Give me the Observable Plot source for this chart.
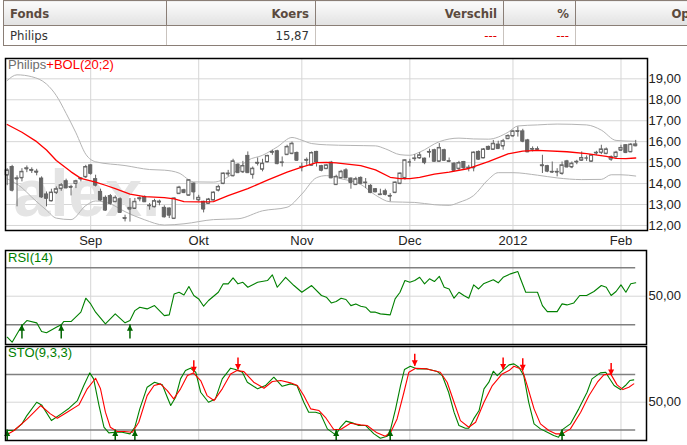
<!DOCTYPE html>
<html><head><meta charset="utf-8">
<script src="https://cdn.jsdelivr.net/npm/d3@7"></script>
<script src="https://cdn.jsdelivr.net/npm/@observablehq/plot@0.6"></script>
<style>
html,body{margin:0;padding:0;background:#fff;}
body{width:687px;height:445px;overflow:hidden;position:relative;font-family:"Liberation Sans",Arial,sans-serif;}
#tbl{position:absolute;left:3px;top:0;border-collapse:collapse;table-layout:fixed;width:709px;
 font-family:"Liberation Sans Narrow","DejaVu Sans Condensed","Arial Narrow","Liberation Sans",sans-serif;font-size:13px;}
#tbl th{height:24px;padding:0 6px;font-weight:bold;color:#5b4a3e;border:1px solid #8a7e76;
 background:linear-gradient(to bottom,#fbfbfb,#e2e2e2);}
#tbl td{height:19px;padding:0 6px;color:#333;border:1px solid #c9c3be;}
#tbl tr:last-child td{border-bottom:1px solid #8a7e76;}
#tbl td:first-child{border-left:1px solid #8a7e76;}
.l{text-align:left}.r{text-align:right}
.red{color:#e00000 !important}
.pnl{position:absolute;left:0;}
.ttl{position:absolute;left:8px;font-size:13px;line-height:15px;font-family:"Liberation Sans",Arial,sans-serif;white-space:nowrap;}
</style></head>
<body>
<table id="tbl"></table>
<div id="main" class="pnl" style="top:50px"></div>
<div id="rsi" class="pnl" style="top:246px"></div>
<div id="sto" class="pnl" style="top:345px"></div>
<div class="ttl" style="top:57px"><span id="t1" style="color:#6e6e6e"></span><span id="t2" style="color:#ff0000"></span></div>
<div class="ttl" id="t3" style="top:250px;color:#008000"></div>
<div class="ttl" id="t4" style="top:345px;color:#008000"></div>
<script>
// ---------- table ----------
const tableHeaders = ["Fonds", "Koers", "Verschil", "%", "Open"];
const tableRow = ["Philips", "15,87", "---", "---", ""];
const colWidths = [163, 149, 188, 72, 137];

// ---------- titles ----------
const stockName = "Philips";
const overlayName = "+BOL(20;2)";
const rsiTitle = "RSI(14)";
const stoTitle = "STO(9,3,3)";
const watermark = "alex.";

// ---------- axis ticks ----------
const monthTicks = [17, 39, 60, 82, 103, 125];   // trading-day index of first day of month
const monthLabels = ["Sep", "Okt", "Nov", "Dec", "2012", "Feb"];
const priceTicks = [12, 13, 14, 15, 16, 17, 18, 19];
const rsiLevels = [30, 70];
const stoLevels = [20, 80];

// ---------- daily candles (Aug 9 2011 .. Feb 6 2012) ----------
const open = [14.40,14.79,14.25,14.27,14.70,14.62,14.57,14.24,13.48,13.17,13.57,13.76,14.11,13.84,14.00,14.22,14.32,14.87,14.21,13.60,
13.32,13.40,13.13,13.25,12.33,12.78,12.81,13.27,13.36,12.95,12.89,13.11,12.84,12.81,12.33,13.52,13.68,13.44,14.00,13.22,
13.13,13.05,13.21,13.68,14.00,14.46,14.37,14.90,14.56,15.32,14.43,14.97,14.68,15.03,15.49,15.54,15.00,15.38,15.43,15.46,
14.79,15.11,14.87,15.51,14.83,14.71,15.00,13.95,14.27,14.63,14.24,13.95,14.27,14.05,13.89,13.73,13.48,13.63,13.41,13.57,
14.00,14.27,15.03,15.19,15.22,15.19,15.50,15.59,15.06,15.59,15.06,14.95,14.71,15.03,14.75,14.75,15.51,15.22,15.75,15.63,
15.86,15.79,16.14,16.27,16.49,16.49,16.06,15.64,15.64,14.87,14.83,14.56,14.55,14.48,15.06,14.79,15.03,15.11,15.22,15.06,
15.46,15.48,15.43,15.16,15.27,15.59,15.83,15.51,15.80];
const high = [14.71,14.87,14.37,14.71,14.84,14.75,14.68,14.32,13.60,13.73,13.84,14.00,14.21,13.92,14.16,14.27,14.87,14.90,14.40,13.73,
13.41,13.48,13.41,13.32,12.49,13.29,13.29,13.36,13.41,13.05,13.25,13.21,12.94,12.84,13.32,13.87,13.73,14.19,14.03,13.44,
13.16,13.29,13.60,13.92,14.51,14.63,15.16,14.95,15.06,15.51,14.79,15.22,15.16,15.35,15.59,15.59,15.27,15.83,15.98,15.51,
14.98,15.22,15.51,15.54,14.87,14.90,15.06,14.40,14.63,14.71,14.27,14.30,14.32,14.24,13.95,13.76,13.73,13.73,13.52,14.08,
14.51,15.14,15.16,15.38,15.48,15.22,15.64,15.64,15.91,15.64,15.22,15.00,15.06,15.06,14.87,15.51,15.56,15.67,15.79,16.06,
16.02,16.11,16.33,16.54,16.70,16.59,16.11,15.75,15.75,15.35,14.87,15.03,14.71,15.03,15.11,15.03,15.11,15.51,15.32,15.38,
15.54,15.83,15.70,15.32,15.54,15.83,15.86,15.91,16.06];
const low = [13.90,13.60,12.89,14.08,14.52,14.48,14.37,13.29,12.89,13.13,13.48,13.63,13.76,13.41,13.76,14.08,14.24,14.40,13.84,13.16,
12.68,12.97,13.10,12.59,12.17,12.16,12.78,13.13,13.10,12.73,12.84,12.94,12.36,12.33,12.30,13.51,13.52,13.41,13.21,13.13,
12.60,13.00,13.19,13.60,13.95,14.32,14.32,14.48,14.48,14.48,14.21,14.84,14.56,15.00,15.35,14.90,14.79,15.35,15.38,15.06,
14.56,14.87,14.84,14.79,14.56,14.68,14.24,13.92,14.24,14.24,13.73,13.92,13.95,13.76,13.52,13.57,13.44,13.41,13.13,13.52,
13.95,14.16,14.79,15.06,15.16,14.90,15.22,15.03,15.03,15.06,15.00,14.56,14.63,14.63,14.56,14.56,15.11,15.19,15.59,15.59,
15.64,15.59,16.11,16.22,16.22,15.95,15.48,15.51,15.56,14.48,14.52,14.48,14.32,14.40,14.75,14.71,14.90,15.06,15.06,15.03,
15.35,15.38,15.38,15.06,15.22,15.54,15.43,15.48,15.76];
const close = [14.63,13.68,14.22,14.56,14.73,14.65,14.54,13.36,13.29,13.57,13.73,13.92,13.79,13.82,14.11,14.25,14.79,14.48,13.92,13.21,
12.73,13.05,13.32,12.62,12.35,12.84,13.13,13.30,13.13,12.94,13.16,13.14,12.41,12.49,13.29,13.81,13.57,14.16,13.60,13.32,
12.78,13.24,13.57,13.84,14.48,14.48,15.06,14.52,14.84,14.52,14.71,14.99,14.95,15.32,15.51,14.95,15.01,15.75,15.90,15.11,
14.80,15.13,15.46,15.03,14.63,14.87,14.27,14.32,14.56,14.27,14.05,14.21,14.00,14.04,13.57,13.60,13.47,13.48,13.40,14.05,
14.48,15.11,15.03,15.20,15.35,15.00,15.51,15.06,15.70,15.11,15.07,14.63,14.98,14.75,14.76,15.48,15.16,15.63,15.63,15.90,
15.67,16.02,16.27,16.49,16.50,16.02,15.51,15.65,15.63,14.85,14.59,14.55,14.56,14.87,14.79,14.95,15.04,15.22,15.22,15.35,
15.47,15.63,15.63,15.27,15.48,15.70,15.48,15.86,15.87];

// ---------- Bollinger (20;2): middle (SMA) and bands, read at these day indices ----------
const smaIdx = [0,3,6,8,10,13,15,18,20,22,25,28,32,34,36,39,42,45,49,53,57,60,63,65,67,72,75,78,80,82,84,87,90,94,98,102,105,108,114,118,122,124,126,128];
const smaVal = [16.82,16.45,16.00,15.60,15.10,14.56,14.25,14.07,13.92,13.76,13.50,13.38,13.33,13.27,13.14,13.13,13.14,13.42,13.76,14.16,14.55,14.79,15.00,15.01,14.99,14.86,14.65,14.30,14.24,14.24,14.30,14.45,14.55,14.72,15.05,15.42,15.55,15.58,15.52,15.43,15.30,15.20,15.19,15.22];
const upperIdx = [0,2,5,8,10,12,14,16,18,24,29,32,35,38,42,46,49,52,55,58,60,62,65,70,75,77,80,82,84,88,92,95,98,102,104,108,112,118,121,124,128];
const upperVal = [18.92,19.19,19.10,18.75,18.20,17.35,16.42,15.40,15.04,14.86,14.67,14.64,14.50,14.08,14.07,14.48,15.11,15.35,15.75,16.20,16.07,15.91,15.85,15.82,15.80,15.66,15.38,15.35,15.50,16.00,16.17,16.13,16.12,16.45,16.75,16.80,16.84,16.80,16.55,16.06,16.02];
const lowerIdx = [0,3,5,8,10,13,16,18,21,24,28,32,36,42,47,52,57,60,63,65,68,72,75,78,83,87,90,92,95,98,100,103,108,112,117,121,123,125,128];
const lowerVal = [14.23,13.80,13.35,12.73,12.35,12.28,12.95,13.17,13.03,12.66,12.27,12.02,12.08,12.28,12.32,12.70,12.87,13.50,14.28,14.38,14.23,13.96,13.45,13.13,13.10,12.99,12.96,13.10,13.43,14.20,14.52,14.52,14.40,14.27,14.19,14.20,14.42,14.42,14.36];

// ---------- RSI(14) ----------
const rsiIdx = [0,1,3,4,6,7,8,10,11,11.5,13,15,16,17,18,20,22,24,25,26,27,28.5,30,32,33,34,35,36,37,38,39,40,41,43,44,45,46,47,48,49,51,53,54,55,56.7,58.4,60,62,64,65,66,67,68,69,70,71,72,73,74,75,76,78,79,80,81,82,83,84,85,86,87,88,89,90,91,92,93,94,95,96,97,99,100,101,102.5,104,104.5,105.6,108,109,110,112,113,114,115.4,116.6,118,119.5,121,122,123,124,125,126,127,128];
const rsiVal = [21.2,17.7,29.4,32.9,31.3,25.2,24.3,28.2,29.9,32.2,32.2,38.8,48.6,44.6,38.8,30.6,37.6,31.3,32.9,39.9,42.3,41.1,43.4,36.4,36.9,51.6,52.8,50.9,56.8,50.5,48.1,43.0,47.0,52.8,58.7,58.7,62.9,58.7,59.8,56.3,59.8,61.0,65.0,56.3,63.3,57.5,52.8,57.5,50.5,49.3,45.3,46.3,48.6,47.7,43.4,44.6,43.0,42.3,38.8,38.8,37.6,36.9,48.1,52.8,61.0,59.8,61.0,63.3,58.7,62.2,60.3,64.0,56.3,55.1,48.6,52.8,50.5,48.6,58.0,55.1,58.7,61.5,59.4,63.3,65.7,67.3,62.6,52.8,52.8,43.4,39.2,39.2,44.6,43.9,45.3,50.5,50.5,53.3,57.5,56.3,50.5,53.3,58.0,52.8,58.7,59.4];
const rsiUpIdx = [3, 11, 25];

// ---------- Stochastic (9,3,3): %K green, %D red ----------
const kIdx = [0,1.4,3,4,6,7,9,11,12.6,14.3,15.6,16.8,17.6,18.7,19.7,20.7,22,23.4,25,26,27,28.5,30,31.6,32.6,33.3,34.3,35.3,36.3,37.3,38.4,39.4,41,42.4,43.8,45.5,46.5,47.9,48.9,51,52.6,54.3,56,57.7,59,60.4,61.4,62.8,63.8,65.2,66.9,67.9,69,70.3,71.6,73,74.7,76,77.4,78.1,79.1,80.1,80.9,82.1,83.5,85.5,87.6,88.6,89.9,91,92,93.3,94,95,96.1,97.1,98.1,99,99.8,101.1,102.2,103.2,104.2,105.2,106.2,107.3,108.6,110,111.3,112.3,113,114.7,116.4,118.1,119.1,120.8,121.9,122.5,123.6,124.9,125.9,126.8,127.6];
const kVal = [19.3,19.3,26.5,35.5,50.0,47.1,30.1,37.4,43.5,51.8,68.1,81.8,75.3,46.4,22.9,16.8,17.5,17.5,15.7,22.9,42.8,66.3,71.7,68.8,55.4,46.4,55.4,75.3,84.3,86.9,82.5,60.8,50.0,53.6,75.3,86.9,85.4,82.5,71.7,64.5,68.1,77.1,67.3,69.9,68.1,50.0,39.2,39.2,37.4,21.1,14.6,23.0,29.5,27.6,24.7,24.7,15.7,11.0,13.1,21.1,42.8,68.1,85.4,89.0,86.1,86.1,83.2,78.9,60.8,39.2,24.7,21.8,21.8,31.9,41.0,64.5,71.7,83.6,78.9,85.4,90.5,91.6,87.9,78.9,50.0,26.5,21.1,17.5,13.9,12.1,20.0,26.5,42.8,60.8,75.3,81.8,82.5,77.1,68.1,63.7,68.1,73.5,74.2];
const dIdx = [0,1.4,4.1,6.8,8.8,10.2,12.2,14.6,16.3,18,19,20,21,22.4,23.8,25.5,26.8,28.5,29.9,31.2,32.6,33.9,35.3,36.7,37.9,39.4,40.7,42.1,43.8,45.5,46.8,48.2,50.2,52.3,54,55.7,57.7,59.1,60.4,61.8,63.5,64.8,66.5,67.9,69.9,72,73.3,75.3,77,78.1,79.4,80.8,81.8,83.2,85.5,88.2,89.6,91,92.3,94,95.4,97.1,98.8,100.8,102.2,103.2,104.9,105.9,107.3,108.6,110.3,111.7,113,114.7,116.8,118.5,120.2,121.5,122.9,124.2,125.4,126.6,127.6];
const dVal = [15.0,19.3,31.9,46.4,37.4,32.7,39.2,47.1,64.5,76.0,64.5,39.2,22.9,18.2,18.2,17.5,28.3,57.2,68.1,69.9,62.6,53.6,64.5,78.9,81.8,73.5,57.2,51.8,64.5,80.7,84.3,83.2,71.7,65.2,72.4,73.5,71.0,68.1,57.2,42.8,41.0,33.7,20.4,20.5,27.2,25.4,24.7,16.8,13.1,17.5,31.9,60.8,82.5,86.9,86.1,82.5,71.7,50.0,30.1,22.9,28.3,50.0,68.1,80.7,84.3,89.0,85.4,68.1,42.8,26.5,19.3,15.7,15.7,21.1,39.2,57.2,71.7,79.6,80.7,68.8,63.7,66.3,69.9];
const stoUpIdx = [0, 22, 26, 67, 78, 113];
const stoDownIdx = [38, 47, 83, 101, 105, 123];
const stoDownVal = [82, 85, 89, 85, 84, 79];

// ================= rendering =================
// table
const tbl = document.getElementById("tbl");
const cg = document.createElement("colgroup");
colWidths.forEach(w => { const c = document.createElement("col"); c.style.width = w + "px"; cg.appendChild(c); });
tbl.appendChild(cg);
const hr = tbl.insertRow();
tableHeaders.forEach((h, k) => { const th = document.createElement("th"); th.textContent = h; th.className = k === 0 ? "l" : "r"; hr.appendChild(th); });
const dr = tbl.insertRow();
tableRow.forEach((v, k) => { const td = dr.insertCell(); td.textContent = v; td.className = (k === 0 ? "l" : "r") + (v === "---" ? " red" : ""); });

document.getElementById("t1").textContent = stockName;
document.getElementById("t2").textContent = overlayName;
document.getElementById("t3").textContent = rsiTitle;
document.getElementById("t4").textContent = stoTitle;

const idx = d3.range(close.length);
const lastIdx = idx[idx.length - 1];
const pairs = (xs, ys) => xs.map((x, k) => ({x, y: ys[k]}));
const fmt = d => d.toFixed(2).replace(".", ",");
const grid = "#d6d6d6";
const candle = "#666666";
const green = "#008000";
const arrowGreen = "#006400";
const baseStyle = {fontFamily: "'Liberation Sans', Arial, sans-serif", fontSize: "13px", color: "#222", background: "transparent", overflow: "visible"};
const upHead = {draw(ctx) { ctx.moveTo(0, 0); ctx.lineTo(3, 6); ctx.lineTo(-3, 6); ctx.closePath(); }};
const downHead = {draw(ctx) { ctx.moveTo(0, 0); ctx.lineTo(3, -6); ctx.lineTo(-3, -6); ctx.closePath(); }};
const bodyHalf = 0.32;

const xMainDomain = [-0.35, 130.4];
const xSubDomain = [-0.35, 130.2];

const main = Plot.plot({
  width: 687, height: 200, marginTop: 8, marginBottom: 20, marginLeft: 5, marginRight: 40,
  style: baseStyle,
  x: {type: "linear", domain: xMainDomain, label: null},
  y: {domain: [11.76, 19.97], label: null},
  marks: [
    Plot.gridY(priceTicks, {stroke: grid, strokeOpacity: 1}),
    Plot.gridX(monthTicks, {stroke: grid, strokeOpacity: 1}),
    Plot.text([watermark], {text: d => d, frameAnchor: "bottom-left", dx: 8, dy: -15, textAnchor: "start", lineAnchor: "bottom",
      fontSize: 66, fontWeight: 900, fill: "#e4e4e4", fontFamily: "'Liberation Sans', Arial, sans-serif"}),
    Plot.line(pairs(upperIdx, upperVal), {x: "x", y: "y", stroke: "#b4b4b4", strokeWidth: 1, curve: "monotone-x"}),
    Plot.line(pairs(lowerIdx, lowerVal), {x: "x", y: "y", stroke: "#b4b4b4", strokeWidth: 1, curve: "monotone-x"}),
    Plot.ruleX(idx, {x: i => i, y1: i => low[i], y2: i => high[i], stroke: candle, strokeWidth: 1}),
    Plot.rect(idx.filter(i => close[i] < open[i]), {x1: i => i - bodyHalf, x2: i => i + bodyHalf, y1: i => open[i], y2: i => close[i], fill: candle, stroke: candle, strokeWidth: 1}),
    Plot.rect(idx.filter(i => close[i] >= open[i]), {x1: i => i - bodyHalf, x2: i => i + bodyHalf, y1: i => open[i], y2: i => close[i], fill: "#fff", stroke: candle, strokeWidth: 1}),
    Plot.ruleY(idx, {y: i => open[i], x1: i => i - bodyHalf, x2: i => i + bodyHalf, stroke: candle, strokeWidth: 1}),
    Plot.ruleY(idx, {y: i => close[i], x1: i => i - bodyHalf, x2: i => i + bodyHalf, stroke: candle, strokeWidth: 1}),
    Plot.line(pairs(smaIdx, smaVal), {x: "x", y: "y", stroke: "#ff0000", strokeWidth: 1.3}),
    Plot.frame({stroke: "#000", strokeWidth: 1.5}),
    Plot.axisX(monthTicks, {tickFormat: d => monthLabels[monthTicks.indexOf(d)], tickSize: 0, tickPadding: 5, fontSize: 13}),
    Plot.axisY(priceTicks, {anchor: "right", tickFormat: fmt, tickSize: 0, tickPadding: 1, fontSize: 13})
  ]
});
document.getElementById("main").appendChild(main);

const rsi = Plot.plot({
  width: 687, height: 99, marginTop: 4, marginBottom: 1, marginLeft: 5, marginRight: 41,
  style: baseStyle,
  x: {type: "linear", domain: xSubDomain, label: null, axis: null},
  y: {domain: [16.1, 82.1], label: null, axis: null},
  marks: [
    Plot.gridX(monthTicks, {stroke: grid, strokeOpacity: 1}),
    Plot.gridY([50], {stroke: grid, strokeOpacity: 1}),
    Plot.ruleY(rsiLevels, {y: d => d, x1: xSubDomain[0], x2: lastIdx, stroke: "#808080", strokeWidth: 1.5}),
    Plot.line(pairs(rsiIdx, rsiVal), {x: "x", y: "y", stroke: green, strokeWidth: 1.1}),
    Plot.ruleX(rsiUpIdx, {x: d => d, y1: rsiLevels[0], y2: 20, stroke: arrowGreen, strokeWidth: 1.5}),
    Plot.dot(rsiUpIdx, {x: d => d, y: rsiLevels[0], symbol: upHead, fill: arrowGreen, stroke: "none", r: 3}),
    Plot.frame({stroke: "#000", strokeWidth: 1.5}),
    Plot.axisY([50], {anchor: "right", tickFormat: fmt, tickSize: 0, tickPadding: 2, fontSize: 13})
  ]
});
document.getElementById("rsi").appendChild(rsi);

const stoY = [8.5, 110.4];
const sto = Plot.plot({
  width: 687, height: 100, marginTop: 1, marginBottom: 5, marginLeft: 5, marginRight: 41,
  style: baseStyle,
  x: {type: "linear", domain: xSubDomain, label: null, axis: null},
  y: {domain: stoY, label: null, axis: null},
  marks: [
    Plot.gridX(monthTicks, {stroke: grid, strokeOpacity: 1}),
    Plot.gridY([50], {stroke: grid, strokeOpacity: 1}),
    Plot.ruleY(stoLevels, {y: d => d, x1: xSubDomain[0], x2: lastIdx, stroke: "#808080", strokeWidth: 1.5}),
    Plot.line(pairs(kIdx, kVal), {x: "x", y: "y", stroke: green, strokeWidth: 1.1}),
    Plot.line(pairs(dIdx, dVal), {x: "x", y: "y", stroke: "#ff0000", strokeWidth: 1.1}),
    Plot.ruleX(stoUpIdx, {x: d => d, y1: stoLevels[0], y2: stoY[0], stroke: arrowGreen, strokeWidth: 1.5}),
    Plot.dot(stoUpIdx, {x: d => d, y: stoLevels[0], symbol: upHead, fill: arrowGreen, stroke: "none", r: 3}),
    Plot.ruleX(stoDownIdx, {x: d => d, y1: (d, k) => stoDownVal[k], y2: (d, k) => stoDownVal[k] + 13, stroke: "#ff0000", strokeWidth: 1.5}),
    Plot.dot(stoDownIdx, {x: d => d, y: (d, k) => stoDownVal[k], symbol: downHead, fill: "#ff0000", stroke: "none", r: 3}),
    Plot.frame({stroke: "#000", strokeWidth: 1.5}),
    Plot.axisY([50], {anchor: "right", tickFormat: fmt, tickSize: 0, tickPadding: 2, fontSize: 13})
  ]
});
document.getElementById("sto").appendChild(sto);
</script>
</body></html>
